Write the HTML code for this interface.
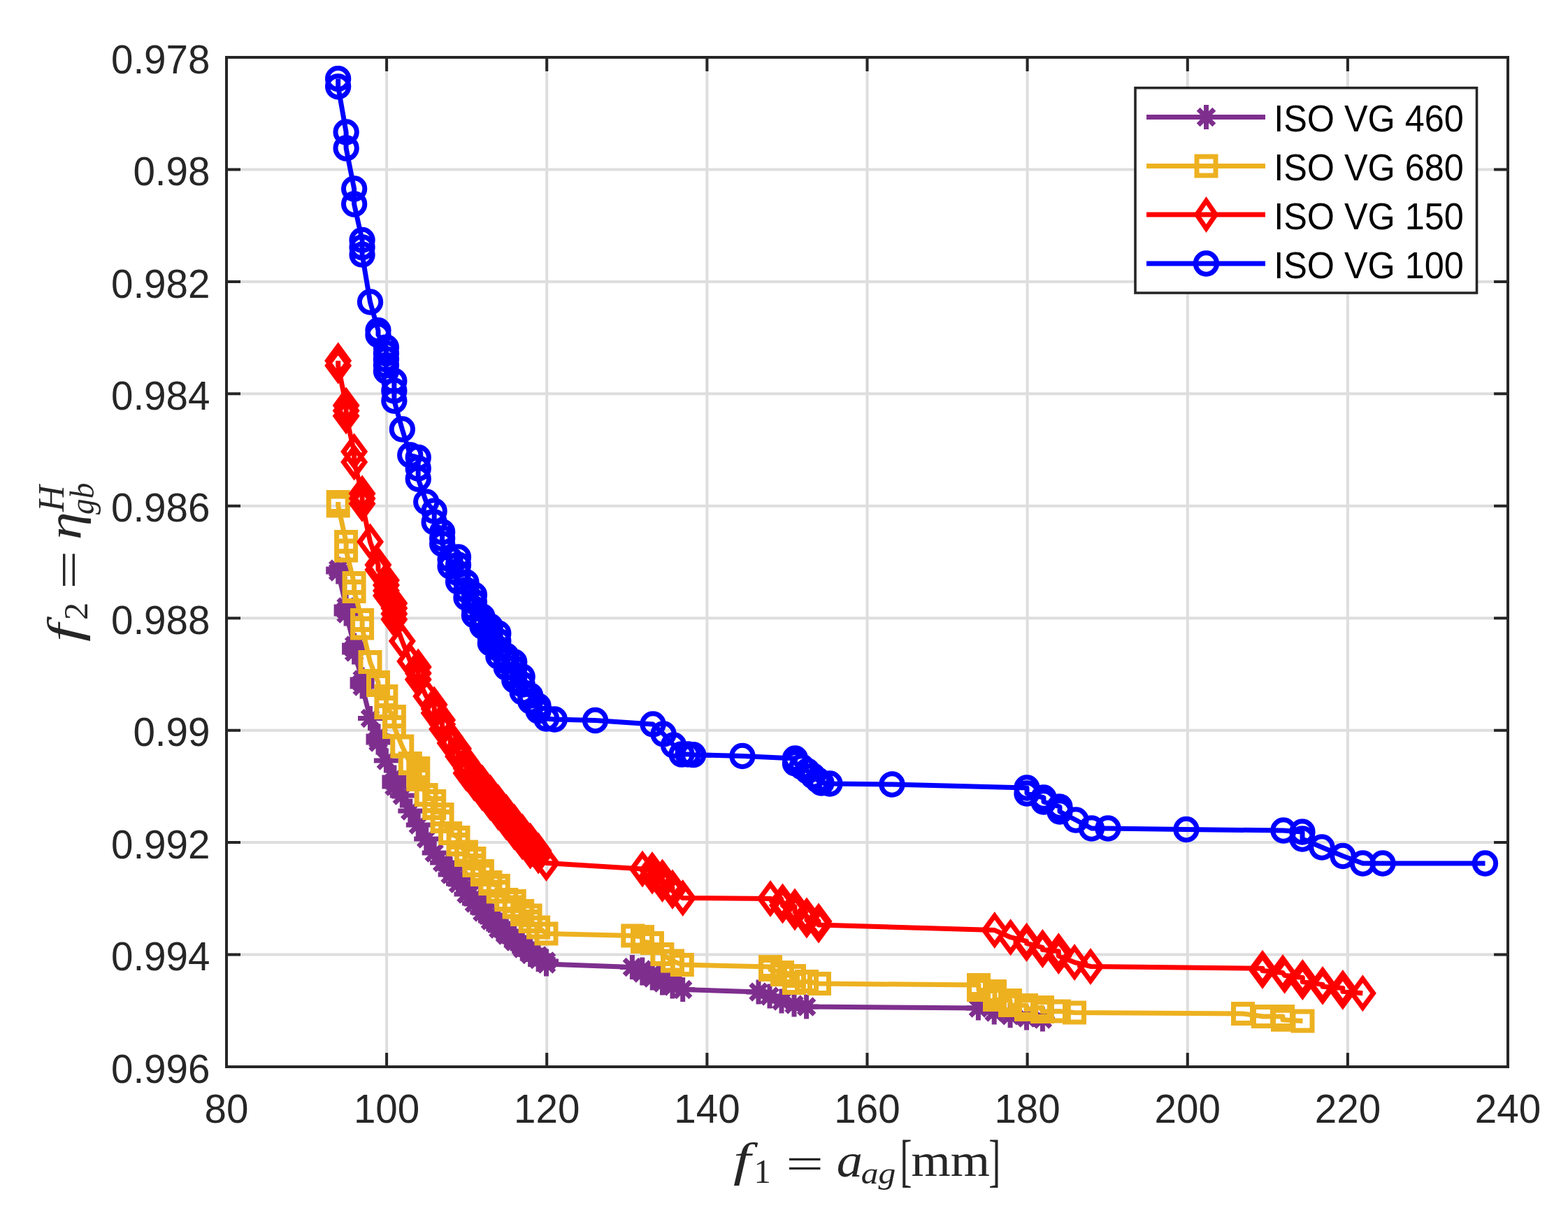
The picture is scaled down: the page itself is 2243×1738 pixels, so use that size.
<!DOCTYPE html>
<html><head><meta charset="utf-8"><title>Pareto fronts</title>
<style>html,body{margin:0;padding:0;background:#fff;}body{width:2243px;height:1738px;overflow:hidden;}svg{display:block;}.tk{font-family:"Liberation Sans",Arial,Helvetica,sans-serif;font-size:58.1px;fill:#262626;}.lg{font-family:"Liberation Sans",Arial,Helvetica,sans-serif;font-size:53.1px;fill:#000;}.tx{font-family:"Liberation Serif","Times New Roman",serif;fill:#262626;}</style></head><body>
<svg width="2243" height="1738" viewBox="0 0 2243 1738">
<rect width="2243" height="1738" fill="#fff"/>
<path d="M553.1 82V1526M782.2 82V1526M1011.4 82V1526M1240.5 82V1526M1469.6 82V1526M1698.8 82V1526M1927.9 82V1526M324 242.4H2157M324 402.9H2157M324 563.3H2157M324 723.8H2157M324 884.2H2157M324 1044.7H2157M324 1205.1H2157M324 1365.6H2157" stroke="#dedede" stroke-width="4" fill="none"/>
<path d="M483.7 814 L483.7 818 L495.1 868 L495.1 873 L495.1 878 L506.6 923 L506.6 928 L506.6 933 L518.1 972 L518.1 977 L518.1 982 L529.5 1027.5 L541 1053 L541 1058 L541 1062 L552.4 1088 L563.9 1112 L563.9 1118 L563.9 1125 L575.3 1138 L586.8 1160 L598.2 1180 L609.7 1200 L621.2 1220 L632.6 1234 L644.1 1243 L644.1 1251 L655.5 1256 L655.5 1264 L667 1269 L667 1279 L678.4 1284 L678.4 1292 L689.9 1296 L689.9 1305 L701.4 1309 L701.4 1317 L712.8 1321 L712.8 1329 L724.3 1332 L724.3 1338 L735.7 1341 L735.7 1347 L747.2 1350 L747.2 1357 L758.6 1359 L758.6 1365.5 L770.1 1367 L770.1 1372.5 L781.5 1375 L781.5 1379 L904.4 1383.5 L918.8 1387 L918.8 1392 L933.2 1393 L933.2 1399 L947.5 1400 L947.5 1406 L962 1406 L962 1411 L976.7 1415.5 L1085 1419 L1101 1425 L1118 1432 L1136 1437 L1153.6 1440 L1399.4 1442 L1422.2 1448 L1445.1 1452.7 L1468.5 1456 L1491.4 1458" stroke="#7E2F8E" stroke-width="7" fill="none" stroke-linejoin="round"/>
<path d="M466.2 814H501.2M483.7 796.5V831.5M472.4 802.7L495 825.3M472.4 825.3L495 802.7M466.2 818H501.2M483.7 800.5V835.5M472.4 806.7L495 829.3M472.4 829.3L495 806.7M477.6 868H512.6M495.1 850.5V885.5M483.8 856.7L506.4 879.3M483.8 879.3L506.4 856.7M477.6 873H512.6M495.1 855.5V890.5M483.8 861.7L506.4 884.3M483.8 884.3L506.4 861.7M477.6 878H512.6M495.1 860.5V895.5M483.8 866.7L506.4 889.3M483.8 889.3L506.4 866.7M489.1 923H524.1M506.6 905.5V940.5M495.3 911.7L517.9 934.3M495.3 934.3L517.9 911.7M489.1 928H524.1M506.6 910.5V945.5M495.3 916.7L517.9 939.3M495.3 939.3L517.9 916.7M489.1 933H524.1M506.6 915.5V950.5M495.3 921.7L517.9 944.3M495.3 944.3L517.9 921.7M500.6 972H535.6M518.1 954.5V989.5M506.8 960.7L529.4 983.3M506.8 983.3L529.4 960.7M500.6 977H535.6M518.1 959.5V994.5M506.8 965.7L529.4 988.3M506.8 988.3L529.4 965.7M500.6 982H535.6M518.1 964.5V999.5M506.8 970.7L529.4 993.3M506.8 993.3L529.4 970.7M512 1027.5H547M529.5 1010V1045M518.2 1016.2L540.8 1038.8M518.2 1038.8L540.8 1016.2M523.5 1053H558.5M541 1035.5V1070.5M529.7 1041.7L552.3 1064.3M529.7 1064.3L552.3 1041.7M523.5 1058H558.5M541 1040.5V1075.5M529.7 1046.7L552.3 1069.3M529.7 1069.3L552.3 1046.7M523.5 1062H558.5M541 1044.5V1079.5M529.7 1050.7L552.3 1073.3M529.7 1073.3L552.3 1050.7M534.9 1088H569.9M552.4 1070.5V1105.5M541.1 1076.7L563.7 1099.3M541.1 1099.3L563.7 1076.7M546.4 1112H581.4M563.9 1094.5V1129.5M552.6 1100.7L575.2 1123.3M552.6 1123.3L575.2 1100.7M546.4 1118H581.4M563.9 1100.5V1135.5M552.6 1106.7L575.2 1129.3M552.6 1129.3L575.2 1106.7M546.4 1125H581.4M563.9 1107.5V1142.5M552.6 1113.7L575.2 1136.3M552.6 1136.3L575.2 1113.7M557.8 1138H592.8M575.3 1120.5V1155.5M564 1126.7L586.6 1149.3M564 1149.3L586.6 1126.7M569.3 1160H604.3M586.8 1142.5V1177.5M575.5 1148.7L598.1 1171.3M575.5 1171.3L598.1 1148.7M580.8 1180H615.8M598.2 1162.5V1197.5M587 1168.7L609.5 1191.3M587 1191.3L609.5 1168.7M592.2 1200H627.2M609.7 1182.5V1217.5M598.4 1188.7L621 1211.3M598.4 1211.3L621 1188.7M603.7 1220H638.7M621.2 1202.5V1237.5M609.9 1208.7L632.5 1231.3M609.9 1231.3L632.5 1208.7M615.1 1234H650.1M632.6 1216.5V1251.5M621.3 1222.7L643.9 1245.3M621.3 1245.3L643.9 1222.7M626.6 1243H661.6M644.1 1225.5V1260.5M632.8 1231.7L655.4 1254.3M632.8 1254.3L655.4 1231.7M626.6 1251H661.6M644.1 1233.5V1268.5M632.8 1239.7L655.4 1262.3M632.8 1262.3L655.4 1239.7M638 1256H673M655.5 1238.5V1273.5M644.2 1244.7L666.8 1267.3M644.2 1267.3L666.8 1244.7M638 1264H673M655.5 1246.5V1281.5M644.2 1252.7L666.8 1275.3M644.2 1275.3L666.8 1252.7M649.5 1269H684.5M667 1251.5V1286.5M655.7 1257.7L678.3 1280.3M655.7 1280.3L678.3 1257.7M649.5 1279H684.5M667 1261.5V1296.5M655.7 1267.7L678.3 1290.3M655.7 1290.3L678.3 1267.7M660.9 1284H695.9M678.4 1266.5V1301.5M667.1 1272.7L689.7 1295.3M667.1 1295.3L689.7 1272.7M660.9 1292H695.9M678.4 1274.5V1309.5M667.1 1280.7L689.7 1303.3M667.1 1303.3L689.7 1280.7M672.4 1296H707.4M689.9 1278.5V1313.5M678.6 1284.7L701.2 1307.3M678.6 1307.3L701.2 1284.7M672.4 1305H707.4M689.9 1287.5V1322.5M678.6 1293.7L701.2 1316.3M678.6 1316.3L701.2 1293.7M683.9 1309H718.9M701.4 1291.5V1326.5M690.1 1297.7L712.7 1320.3M690.1 1320.3L712.7 1297.7M683.9 1317H718.9M701.4 1299.5V1334.5M690.1 1305.7L712.7 1328.3M690.1 1328.3L712.7 1305.7M695.3 1321H730.3M712.8 1303.5V1338.5M701.5 1309.7L724.1 1332.3M701.5 1332.3L724.1 1309.7M695.3 1329H730.3M712.8 1311.5V1346.5M701.5 1317.7L724.1 1340.3M701.5 1340.3L724.1 1317.7M706.8 1332H741.8M724.3 1314.5V1349.5M713 1320.7L735.6 1343.3M713 1343.3L735.6 1320.7M706.8 1338H741.8M724.3 1320.5V1355.5M713 1326.7L735.6 1349.3M713 1349.3L735.6 1326.7M718.2 1341H753.2M735.7 1323.5V1358.5M724.4 1329.7L747 1352.3M724.4 1352.3L747 1329.7M718.2 1347H753.2M735.7 1329.5V1364.5M724.4 1335.7L747 1358.3M724.4 1358.3L747 1335.7M729.7 1350H764.7M747.2 1332.5V1367.5M735.9 1338.7L758.5 1361.3M735.9 1361.3L758.5 1338.7M729.7 1357H764.7M747.2 1339.5V1374.5M735.9 1345.7L758.5 1368.3M735.9 1368.3L758.5 1345.7M741.1 1359H776.1M758.6 1341.5V1376.5M747.3 1347.7L769.9 1370.3M747.3 1370.3L769.9 1347.7M741.1 1365.5H776.1M758.6 1348V1383M747.3 1354.2L769.9 1376.8M747.3 1376.8L769.9 1354.2M752.6 1367H787.6M770.1 1349.5V1384.5M758.8 1355.7L781.4 1378.3M758.8 1378.3L781.4 1355.7M752.6 1372.5H787.6M770.1 1355V1390M758.8 1361.2L781.4 1383.8M758.8 1383.8L781.4 1361.2M764 1375H799M781.5 1357.5V1392.5M770.2 1363.7L792.8 1386.3M770.2 1386.3L792.8 1363.7M764 1379H799M781.5 1361.5V1396.5M770.2 1367.7L792.8 1390.3M770.2 1390.3L792.8 1367.7M886.9 1383.5H921.9M904.4 1366V1401M893.1 1372.2L915.7 1394.8M893.1 1394.8L915.7 1372.2M901.3 1387H936.3M918.8 1369.5V1404.5M907.5 1375.7L930.1 1398.3M907.5 1398.3L930.1 1375.7M901.3 1392H936.3M918.8 1374.5V1409.5M907.5 1380.7L930.1 1403.3M907.5 1403.3L930.1 1380.7M915.7 1393H950.7M933.2 1375.5V1410.5M921.9 1381.7L944.5 1404.3M921.9 1404.3L944.5 1381.7M915.7 1399H950.7M933.2 1381.5V1416.5M921.9 1387.7L944.5 1410.3M921.9 1410.3L944.5 1387.7M930 1400H965M947.5 1382.5V1417.5M936.2 1388.7L958.8 1411.3M936.2 1411.3L958.8 1388.7M930 1406H965M947.5 1388.5V1423.5M936.2 1394.7L958.8 1417.3M936.2 1417.3L958.8 1394.7M944.5 1406H979.5M962 1388.5V1423.5M950.7 1394.7L973.3 1417.3M950.7 1417.3L973.3 1394.7M944.5 1411H979.5M962 1393.5V1428.5M950.7 1399.7L973.3 1422.3M950.7 1422.3L973.3 1399.7M959.2 1415.5H994.2M976.7 1398V1433M965.4 1404.2L988 1426.8M965.4 1426.8L988 1404.2M1067.5 1419H1102.5M1085 1401.5V1436.5M1073.7 1407.7L1096.3 1430.3M1073.7 1430.3L1096.3 1407.7M1083.5 1425H1118.5M1101 1407.5V1442.5M1089.7 1413.7L1112.3 1436.3M1089.7 1436.3L1112.3 1413.7M1100.5 1432H1135.5M1118 1414.5V1449.5M1106.7 1420.7L1129.3 1443.3M1106.7 1443.3L1129.3 1420.7M1118.5 1437H1153.5M1136 1419.5V1454.5M1124.7 1425.7L1147.3 1448.3M1124.7 1448.3L1147.3 1425.7M1136.1 1440H1171.1M1153.6 1422.5V1457.5M1142.3 1428.7L1164.9 1451.3M1142.3 1451.3L1164.9 1428.7M1381.9 1442H1416.9M1399.4 1424.5V1459.5M1388.1 1430.7L1410.7 1453.3M1388.1 1453.3L1410.7 1430.7M1404.7 1448H1439.7M1422.2 1430.5V1465.5M1410.9 1436.7L1433.5 1459.3M1410.9 1459.3L1433.5 1436.7M1427.6 1452.7H1462.6M1445.1 1435.2V1470.2M1433.8 1441.4L1456.4 1464M1433.8 1464L1456.4 1441.4M1451 1456H1486M1468.5 1438.5V1473.5M1457.2 1444.7L1479.8 1467.3M1457.2 1467.3L1479.8 1444.7M1473.9 1458H1508.9M1491.4 1440.5V1475.5M1480.1 1446.7L1502.7 1469.3M1480.1 1469.3L1502.7 1446.7" stroke="#7E2F8E" stroke-width="7" fill="none" stroke-linecap="butt" stroke-linejoin="miter" stroke-miterlimit="10"/>
<path d="M483.7 718 L483.7 723.4 L495.1 775 L495.1 787.6 L506.6 834 L506.6 846 L518.1 887 L518.1 898.5 L529.5 947 L541 976 L541 980 L552.4 996 L552.4 1012 L563.9 1025 L563.9 1040 L575.3 1067.6 L586.8 1092 L598.2 1099 L598.2 1104 L598.2 1109 L598.2 1115 L609.7 1137 L621.2 1146 L621.2 1156 L632.6 1165 L632.6 1175 L644.1 1192 L655.5 1198 L655.5 1208 L667 1218.5 L667 1223 L678.4 1228 L678.4 1238 L689.9 1246 L689.9 1251 L701.4 1262 L701.4 1264 L712.8 1267 L712.8 1275.5 L724.3 1287 L735.7 1289 L735.7 1297.6 L747.2 1303 L747.2 1308 L758.6 1309.5 L758.6 1318 L770.1 1326.5 L781.5 1335.5 L905.3 1338.5 L919 1340 L919 1347 L933 1349 L947.4 1365 L962 1374.5 L975.8 1380 L1102 1383 L1102 1387 L1119 1391 L1119 1394 L1136 1396 L1136 1406 L1154 1404 L1172 1407 L1400 1409 L1400 1416 L1423 1418 L1423 1424 L1423 1430 L1445 1431 L1445 1438 L1468 1438 L1468 1444 L1491 1441 L1491 1447 L1514.8 1446.5 L1537 1448.4 L1778 1450 L1807 1454 L1835 1454 L1835 1458.7 L1863.5 1460.4" stroke="#EDB120" stroke-width="7" fill="none" stroke-linejoin="round"/>
<path d="M470.2 704.5h27v27h-27zM470.2 709.9h27v27h-27zM481.6 761.5h27v27h-27zM481.6 774.1h27v27h-27zM493.1 820.5h27v27h-27zM493.1 832.5h27v27h-27zM504.6 873.5h27v27h-27zM504.6 885h27v27h-27zM516 933.5h27v27h-27zM527.5 962.5h27v27h-27zM527.5 966.5h27v27h-27zM538.9 982.5h27v27h-27zM538.9 998.5h27v27h-27zM550.4 1011.5h27v27h-27zM550.4 1026.5h27v27h-27zM561.8 1054.1h27v27h-27zM573.3 1078.5h27v27h-27zM584.8 1085.5h27v27h-27zM584.8 1090.5h27v27h-27zM584.8 1095.5h27v27h-27zM584.8 1101.5h27v27h-27zM596.2 1123.5h27v27h-27zM607.7 1132.5h27v27h-27zM607.7 1142.5h27v27h-27zM619.1 1151.5h27v27h-27zM619.1 1161.5h27v27h-27zM630.6 1178.5h27v27h-27zM642 1184.5h27v27h-27zM642 1194.5h27v27h-27zM653.5 1205h27v27h-27zM653.5 1209.5h27v27h-27zM664.9 1214.5h27v27h-27zM664.9 1224.5h27v27h-27zM676.4 1232.5h27v27h-27zM676.4 1237.5h27v27h-27zM687.9 1248.5h27v27h-27zM687.9 1250.5h27v27h-27zM699.3 1253.5h27v27h-27zM699.3 1262h27v27h-27zM710.8 1273.5h27v27h-27zM722.2 1275.5h27v27h-27zM722.2 1284.1h27v27h-27zM733.7 1289.5h27v27h-27zM733.7 1294.5h27v27h-27zM745.1 1296h27v27h-27zM745.1 1304.5h27v27h-27zM756.6 1313h27v27h-27zM768 1322h27v27h-27zM891.8 1325h27v27h-27zM905.5 1326.5h27v27h-27zM905.5 1333.5h27v27h-27zM919.5 1335.5h27v27h-27zM933.9 1351.5h27v27h-27zM948.5 1361h27v27h-27zM962.3 1366.5h27v27h-27zM1088.5 1369.5h27v27h-27zM1088.5 1373.5h27v27h-27zM1105.5 1377.5h27v27h-27zM1105.5 1380.5h27v27h-27zM1122.5 1382.5h27v27h-27zM1122.5 1392.5h27v27h-27zM1140.5 1390.5h27v27h-27zM1158.5 1393.5h27v27h-27zM1386.5 1395.5h27v27h-27zM1386.5 1402.5h27v27h-27zM1409.5 1404.5h27v27h-27zM1409.5 1410.5h27v27h-27zM1409.5 1416.5h27v27h-27zM1431.5 1417.5h27v27h-27zM1431.5 1424.5h27v27h-27zM1454.5 1424.5h27v27h-27zM1454.5 1430.5h27v27h-27zM1477.5 1427.5h27v27h-27zM1477.5 1433.5h27v27h-27zM1501.3 1433h27v27h-27zM1523.5 1434.9h27v27h-27zM1764.5 1436.5h27v27h-27zM1793.5 1440.5h27v27h-27zM1821.5 1440.5h27v27h-27zM1821.5 1445.2h27v27h-27zM1850 1446.9h27v27h-27z" stroke="#EDB120" stroke-width="7" fill="none" stroke-linecap="butt" stroke-linejoin="miter" stroke-miterlimit="10"/>
<path d="M483.7 516 L483.7 523 L495.1 580 L495.1 587.5 L495.1 595 L506.6 646 L506.6 661 L518.1 706 L518.1 713 L518.1 720.6 L529.5 775 L541 808 L541 815 L552.4 830 L552.4 837 L552.4 845 L552.4 852 L563.9 863 L563.9 870 L563.9 878 L563.9 886 L575.3 917 L586.8 946 L598.2 954 L598.2 963 L598.2 972 L609.7 996 L621.2 1008 L621.2 1014 L621.2 1020 L632.6 1030 L632.6 1036 L632.6 1043 L644.1 1055 L644.1 1063 L655.5 1071 L655.5 1076 L655.5 1082 L667 1090 L667 1099 L667 1106 L678.4 1106 L678.4 1113 L678.4 1120 L689.9 1120 L689.9 1127 L689.9 1134 L701.4 1134 L701.4 1141 L701.4 1148 L712.8 1148 L712.8 1155 L712.8 1162 L724.3 1162 L724.3 1169 L724.3 1176 L735.7 1176 L735.7 1183 L735.7 1190 L747.2 1190 L747.2 1197 L747.2 1204 L758.6 1203 L758.6 1210 L758.6 1217 L770.1 1217 L770.1 1224 L781.5 1234.5 L919 1243 L933 1244.5 L933 1253 L947.5 1255 L947.5 1264.6 L962 1270 L962 1274.6 L976.7 1284.5 L1102 1285.5 L1119.5 1290 L1119.5 1295 L1137 1297 L1137 1305 L1154 1310 L1154 1316 L1171 1318 L1171 1323 L1422.8 1330.6 L1445.6 1340.7 L1468.5 1346.3 L1468.5 1349.4 L1491.4 1355.4 L1491.4 1358.5 L1514.3 1360.7 L1514.3 1367.5 L1537.1 1376.6 L1560 1382.4 L1806 1385.3 L1806 1388.6 L1835 1391.4 L1837.6 1395.2 L1863.3 1398.5 L1863.3 1404.6 L1892 1408.4 L1892 1411.2 L1920.8 1413.4 L1920.8 1418.3 L1949.3 1420.8" stroke="#FF0000" stroke-width="7" fill="none" stroke-linejoin="round"/>
<path d="M483.7 495.4L498.8 516L483.7 536.6L468.5 516zM483.7 502.4L498.8 523L483.7 543.6L468.5 523zM495.1 559.4L510.3 580L495.1 600.6L480 580zM495.1 566.9L510.3 587.5L495.1 608.1L480 587.5zM495.1 574.4L510.3 595L495.1 615.6L480 595zM506.6 625.4L521.8 646L506.6 666.6L491.5 646zM506.6 640.4L521.8 661L506.6 681.6L491.5 661zM518.1 685.4L533.2 706L518.1 726.6L502.9 706zM518.1 692.4L533.2 713L518.1 733.6L502.9 713zM518.1 700L533.2 720.6L518.1 741.2L502.9 720.6zM529.5 754.4L544.7 775L529.5 795.6L514.4 775zM541 787.4L556.1 808L541 828.6L525.8 808zM541 794.4L556.1 815L541 835.6L525.8 815zM552.4 809.4L567.6 830L552.4 850.6L537.3 830zM552.4 816.4L567.6 837L552.4 857.6L537.3 837zM552.4 824.4L567.6 845L552.4 865.6L537.3 845zM552.4 831.4L567.6 852L552.4 872.6L537.3 852zM563.9 842.4L579 863L563.9 883.6L548.7 863zM563.9 849.4L579 870L563.9 890.6L548.7 870zM563.9 857.4L579 878L563.9 898.6L548.7 878zM563.9 865.4L579 886L563.9 906.6L548.7 886zM575.3 896.4L590.5 917L575.3 937.6L560.2 917zM586.8 925.4L601.9 946L586.8 966.6L571.6 946zM598.2 933.4L613.4 954L598.2 974.6L583.1 954zM598.2 942.4L613.4 963L598.2 983.6L583.1 963zM598.2 951.4L613.4 972L598.2 992.6L583.1 972zM609.7 975.4L624.9 996L609.7 1016.6L594.6 996zM621.2 987.4L636.3 1008L621.2 1028.6L606 1008zM621.2 993.4L636.3 1014L621.2 1034.6L606 1014zM621.2 999.4L636.3 1020L621.2 1040.6L606 1020zM632.6 1009.4L647.8 1030L632.6 1050.6L617.5 1030zM632.6 1015.4L647.8 1036L632.6 1056.6L617.5 1036zM632.6 1022.4L647.8 1043L632.6 1063.6L617.5 1043zM644.1 1034.4L659.2 1055L644.1 1075.6L628.9 1055zM644.1 1042.4L659.2 1063L644.1 1083.6L628.9 1063zM655.5 1050.4L670.7 1071L655.5 1091.6L640.4 1071zM655.5 1055.4L670.7 1076L655.5 1096.6L640.4 1076zM655.5 1061.4L670.7 1082L655.5 1102.6L640.4 1082zM667 1069.4L682.1 1090L667 1110.6L651.8 1090zM667 1078.4L682.1 1099L667 1119.6L651.8 1099zM667 1085.4L682.1 1106L667 1126.6L651.8 1106zM678.4 1085.4L693.6 1106L678.4 1126.6L663.3 1106zM678.4 1092.4L693.6 1113L678.4 1133.6L663.3 1113zM678.4 1099.4L693.6 1120L678.4 1140.6L663.3 1120zM689.9 1099.4L705 1120L689.9 1140.6L674.8 1120zM689.9 1106.4L705 1127L689.9 1147.6L674.8 1127zM689.9 1113.4L705 1134L689.9 1154.6L674.8 1134zM701.4 1113.4L716.5 1134L701.4 1154.6L686.2 1134zM701.4 1120.4L716.5 1141L701.4 1161.6L686.2 1141zM701.4 1127.4L716.5 1148L701.4 1168.6L686.2 1148zM712.8 1127.4L728 1148L712.8 1168.6L697.7 1148zM712.8 1134.4L728 1155L712.8 1175.6L697.7 1155zM712.8 1141.4L728 1162L712.8 1182.6L697.7 1162zM724.3 1141.4L739.4 1162L724.3 1182.6L709.1 1162zM724.3 1148.4L739.4 1169L724.3 1189.6L709.1 1169zM724.3 1155.4L739.4 1176L724.3 1196.6L709.1 1176zM735.7 1155.4L750.9 1176L735.7 1196.6L720.6 1176zM735.7 1162.4L750.9 1183L735.7 1203.6L720.6 1183zM735.7 1169.4L750.9 1190L735.7 1210.6L720.6 1190zM747.2 1169.4L762.3 1190L747.2 1210.6L732 1190zM747.2 1176.4L762.3 1197L747.2 1217.6L732 1197zM747.2 1183.4L762.3 1204L747.2 1224.6L732 1204zM758.6 1182.4L773.8 1203L758.6 1223.6L743.5 1203zM758.6 1189.4L773.8 1210L758.6 1230.6L743.5 1210zM758.6 1196.4L773.8 1217L758.6 1237.6L743.5 1217zM770.1 1196.4L785.2 1217L770.1 1237.6L754.9 1217zM770.1 1203.4L785.2 1224L770.1 1244.6L754.9 1224zM781.5 1213.9L796.7 1234.5L781.5 1255.1L766.4 1234.5zM919 1222.4L934.1 1243L919 1263.6L903.9 1243zM933 1223.9L948.1 1244.5L933 1265.1L917.9 1244.5zM933 1232.4L948.1 1253L933 1273.6L917.9 1253zM947.5 1234.4L962.6 1255L947.5 1275.6L932.4 1255zM947.5 1244L962.6 1264.6L947.5 1285.2L932.4 1264.6zM962 1249.4L977.1 1270L962 1290.6L946.9 1270zM962 1254L977.1 1274.6L962 1295.2L946.9 1274.6zM976.7 1263.9L991.9 1284.5L976.7 1305.1L961.6 1284.5zM1102 1264.9L1117.2 1285.5L1102 1306.1L1086.8 1285.5zM1119.5 1269.4L1134.7 1290L1119.5 1310.6L1104.3 1290zM1119.5 1274.4L1134.7 1295L1119.5 1315.6L1104.3 1295zM1137 1276.4L1152.2 1297L1137 1317.6L1121.8 1297zM1137 1284.4L1152.2 1305L1137 1325.6L1121.8 1305zM1154 1289.4L1169.2 1310L1154 1330.6L1138.8 1310zM1154 1295.4L1169.2 1316L1154 1336.6L1138.8 1316zM1171 1297.4L1186.2 1318L1171 1338.6L1155.8 1318zM1171 1302.4L1186.2 1323L1171 1343.6L1155.8 1323zM1422.8 1310L1438 1330.6L1422.8 1351.2L1407.6 1330.6zM1445.6 1320.1L1460.8 1340.7L1445.6 1361.3L1430.4 1340.7zM1468.5 1325.7L1483.7 1346.3L1468.5 1366.9L1453.3 1346.3zM1468.5 1328.8L1483.7 1349.4L1468.5 1370L1453.3 1349.4zM1491.4 1334.8L1506.6 1355.4L1491.4 1376L1476.2 1355.4zM1491.4 1337.9L1506.6 1358.5L1491.4 1379.1L1476.2 1358.5zM1514.3 1340.1L1529.5 1360.7L1514.3 1381.3L1499.1 1360.7zM1514.3 1346.9L1529.5 1367.5L1514.3 1388.1L1499.1 1367.5zM1537.1 1356L1552.2 1376.6L1537.1 1397.2L1521.9 1376.6zM1560 1361.8L1575.2 1382.4L1560 1403L1544.8 1382.4zM1806 1364.7L1821.2 1385.3L1806 1405.9L1790.8 1385.3zM1806 1368L1821.2 1388.6L1806 1409.2L1790.8 1388.6zM1835 1370.8L1850.2 1391.4L1835 1412L1819.8 1391.4zM1837.6 1374.6L1852.8 1395.2L1837.6 1415.8L1822.4 1395.2zM1863.3 1377.9L1878.5 1398.5L1863.3 1419.1L1848.1 1398.5zM1863.3 1384L1878.5 1404.6L1863.3 1425.2L1848.1 1404.6zM1892 1387.8L1907.2 1408.4L1892 1429L1876.8 1408.4zM1892 1390.6L1907.2 1411.2L1892 1431.8L1876.8 1411.2zM1920.8 1392.8L1936 1413.4L1920.8 1434L1905.6 1413.4zM1920.8 1397.7L1936 1418.3L1920.8 1438.9L1905.6 1418.3zM1949.3 1400.2L1964.5 1420.8L1949.3 1441.4L1934.1 1420.8z" stroke="#FF0000" stroke-width="7" fill="none" stroke-linecap="butt" stroke-linejoin="miter" stroke-miterlimit="10"/>
<path d="M483.7 112.6 L483.7 123.8 L495.1 189 L495.1 212 L506.6 270 L506.6 292 L518.1 343.4 L518.1 353.8 L518.1 364.2 L529.5 432 L541 472.6 L541 479 L552.4 497 L552.4 505.5 L552.4 514 L552.4 522.5 L552.4 531 L563.9 545 L563.9 559 L563.9 573.3 L575.3 614 L586.8 651 L598.2 654.5 L598.2 670 L598.2 685 L609.7 718 L621.2 731 L621.2 747 L632.6 761 L632.6 770 L632.6 778 L644.1 800 L644.1 810 L655.5 797 L655.5 808 L655.5 820 L655.5 832 L667 833 L667 844 L667 855 L678.4 851 L678.4 861 L678.4 871 L678.4 880 L689.9 882 L689.9 889 L689.9 896 L701.4 896 L701.4 904 L701.4 912 L701.4 920 L712.8 906 L712.8 917 L712.8 928 L712.8 939 L724.3 938 L724.3 946 L724.3 955 L735.7 947 L735.7 956 L735.7 965 L735.7 973 L747.2 968 L747.2 979 L747.2 990 L758.6 995 L758.6 1003 L770.1 1010 L770.1 1017 L781.5 1028 L793.2 1029 L851.5 1030.5 L934 1036 L949 1050 L963.5 1066 L975 1079 L984 1079 L991.6 1079.7 L1062 1081.5 L1137.5 1085 L1137.5 1092 L1147 1097 L1155 1103 L1163 1110 L1170 1116 L1175 1120 L1187 1121 L1276 1122 L1469 1127 L1469 1135 L1493 1141 L1493 1147 L1516 1154 L1516 1161 L1539 1173 L1561.5 1185 L1585 1185 L1697 1186.5 L1836 1188 L1863 1190 L1863 1200 L1891 1212 L1921 1224.5 L1949.5 1235 L1978 1235 L2124.5 1235" stroke="#0000FF" stroke-width="7" fill="none" stroke-linejoin="round"/>
<path d="M468.5 112.6a15.15 15.15 0 1 0 30.3 0a15.15 15.15 0 1 0 -30.3 0M468.5 123.8a15.15 15.15 0 1 0 30.3 0a15.15 15.15 0 1 0 -30.3 0M480 189a15.15 15.15 0 1 0 30.3 0a15.15 15.15 0 1 0 -30.3 0M480 212a15.15 15.15 0 1 0 30.3 0a15.15 15.15 0 1 0 -30.3 0M491.5 270a15.15 15.15 0 1 0 30.3 0a15.15 15.15 0 1 0 -30.3 0M491.5 292a15.15 15.15 0 1 0 30.3 0a15.15 15.15 0 1 0 -30.3 0M502.9 343.4a15.15 15.15 0 1 0 30.3 0a15.15 15.15 0 1 0 -30.3 0M502.9 353.8a15.15 15.15 0 1 0 30.3 0a15.15 15.15 0 1 0 -30.3 0M502.9 364.2a15.15 15.15 0 1 0 30.3 0a15.15 15.15 0 1 0 -30.3 0M514.4 432a15.15 15.15 0 1 0 30.3 0a15.15 15.15 0 1 0 -30.3 0M525.8 472.6a15.15 15.15 0 1 0 30.3 0a15.15 15.15 0 1 0 -30.3 0M525.8 479a15.15 15.15 0 1 0 30.3 0a15.15 15.15 0 1 0 -30.3 0M537.3 497a15.15 15.15 0 1 0 30.3 0a15.15 15.15 0 1 0 -30.3 0M537.3 505.5a15.15 15.15 0 1 0 30.3 0a15.15 15.15 0 1 0 -30.3 0M537.3 514a15.15 15.15 0 1 0 30.3 0a15.15 15.15 0 1 0 -30.3 0M537.3 522.5a15.15 15.15 0 1 0 30.3 0a15.15 15.15 0 1 0 -30.3 0M537.3 531a15.15 15.15 0 1 0 30.3 0a15.15 15.15 0 1 0 -30.3 0M548.7 545a15.15 15.15 0 1 0 30.3 0a15.15 15.15 0 1 0 -30.3 0M548.7 559a15.15 15.15 0 1 0 30.3 0a15.15 15.15 0 1 0 -30.3 0M548.7 573.3a15.15 15.15 0 1 0 30.3 0a15.15 15.15 0 1 0 -30.3 0M560.2 614a15.15 15.15 0 1 0 30.3 0a15.15 15.15 0 1 0 -30.3 0M571.6 651a15.15 15.15 0 1 0 30.3 0a15.15 15.15 0 1 0 -30.3 0M583.1 654.5a15.15 15.15 0 1 0 30.3 0a15.15 15.15 0 1 0 -30.3 0M583.1 670a15.15 15.15 0 1 0 30.3 0a15.15 15.15 0 1 0 -30.3 0M583.1 685a15.15 15.15 0 1 0 30.3 0a15.15 15.15 0 1 0 -30.3 0M594.6 718a15.15 15.15 0 1 0 30.3 0a15.15 15.15 0 1 0 -30.3 0M606 731a15.15 15.15 0 1 0 30.3 0a15.15 15.15 0 1 0 -30.3 0M606 747a15.15 15.15 0 1 0 30.3 0a15.15 15.15 0 1 0 -30.3 0M617.5 761a15.15 15.15 0 1 0 30.3 0a15.15 15.15 0 1 0 -30.3 0M617.5 770a15.15 15.15 0 1 0 30.3 0a15.15 15.15 0 1 0 -30.3 0M617.5 778a15.15 15.15 0 1 0 30.3 0a15.15 15.15 0 1 0 -30.3 0M628.9 800a15.15 15.15 0 1 0 30.3 0a15.15 15.15 0 1 0 -30.3 0M628.9 810a15.15 15.15 0 1 0 30.3 0a15.15 15.15 0 1 0 -30.3 0M640.4 797a15.15 15.15 0 1 0 30.3 0a15.15 15.15 0 1 0 -30.3 0M640.4 808a15.15 15.15 0 1 0 30.3 0a15.15 15.15 0 1 0 -30.3 0M640.4 820a15.15 15.15 0 1 0 30.3 0a15.15 15.15 0 1 0 -30.3 0M640.4 832a15.15 15.15 0 1 0 30.3 0a15.15 15.15 0 1 0 -30.3 0M651.8 833a15.15 15.15 0 1 0 30.3 0a15.15 15.15 0 1 0 -30.3 0M651.8 844a15.15 15.15 0 1 0 30.3 0a15.15 15.15 0 1 0 -30.3 0M651.8 855a15.15 15.15 0 1 0 30.3 0a15.15 15.15 0 1 0 -30.3 0M663.3 851a15.15 15.15 0 1 0 30.3 0a15.15 15.15 0 1 0 -30.3 0M663.3 861a15.15 15.15 0 1 0 30.3 0a15.15 15.15 0 1 0 -30.3 0M663.3 871a15.15 15.15 0 1 0 30.3 0a15.15 15.15 0 1 0 -30.3 0M663.3 880a15.15 15.15 0 1 0 30.3 0a15.15 15.15 0 1 0 -30.3 0M674.8 882a15.15 15.15 0 1 0 30.3 0a15.15 15.15 0 1 0 -30.3 0M674.8 889a15.15 15.15 0 1 0 30.3 0a15.15 15.15 0 1 0 -30.3 0M674.8 896a15.15 15.15 0 1 0 30.3 0a15.15 15.15 0 1 0 -30.3 0M686.2 896a15.15 15.15 0 1 0 30.3 0a15.15 15.15 0 1 0 -30.3 0M686.2 904a15.15 15.15 0 1 0 30.3 0a15.15 15.15 0 1 0 -30.3 0M686.2 912a15.15 15.15 0 1 0 30.3 0a15.15 15.15 0 1 0 -30.3 0M686.2 920a15.15 15.15 0 1 0 30.3 0a15.15 15.15 0 1 0 -30.3 0M697.7 906a15.15 15.15 0 1 0 30.3 0a15.15 15.15 0 1 0 -30.3 0M697.7 917a15.15 15.15 0 1 0 30.3 0a15.15 15.15 0 1 0 -30.3 0M697.7 928a15.15 15.15 0 1 0 30.3 0a15.15 15.15 0 1 0 -30.3 0M697.7 939a15.15 15.15 0 1 0 30.3 0a15.15 15.15 0 1 0 -30.3 0M709.1 938a15.15 15.15 0 1 0 30.3 0a15.15 15.15 0 1 0 -30.3 0M709.1 946a15.15 15.15 0 1 0 30.3 0a15.15 15.15 0 1 0 -30.3 0M709.1 955a15.15 15.15 0 1 0 30.3 0a15.15 15.15 0 1 0 -30.3 0M720.6 947a15.15 15.15 0 1 0 30.3 0a15.15 15.15 0 1 0 -30.3 0M720.6 956a15.15 15.15 0 1 0 30.3 0a15.15 15.15 0 1 0 -30.3 0M720.6 965a15.15 15.15 0 1 0 30.3 0a15.15 15.15 0 1 0 -30.3 0M720.6 973a15.15 15.15 0 1 0 30.3 0a15.15 15.15 0 1 0 -30.3 0M732 968a15.15 15.15 0 1 0 30.3 0a15.15 15.15 0 1 0 -30.3 0M732 979a15.15 15.15 0 1 0 30.3 0a15.15 15.15 0 1 0 -30.3 0M732 990a15.15 15.15 0 1 0 30.3 0a15.15 15.15 0 1 0 -30.3 0M743.5 995a15.15 15.15 0 1 0 30.3 0a15.15 15.15 0 1 0 -30.3 0M743.5 1003a15.15 15.15 0 1 0 30.3 0a15.15 15.15 0 1 0 -30.3 0M754.9 1010a15.15 15.15 0 1 0 30.3 0a15.15 15.15 0 1 0 -30.3 0M754.9 1017a15.15 15.15 0 1 0 30.3 0a15.15 15.15 0 1 0 -30.3 0M766.4 1028a15.15 15.15 0 1 0 30.3 0a15.15 15.15 0 1 0 -30.3 0M778.1 1029a15.15 15.15 0 1 0 30.3 0a15.15 15.15 0 1 0 -30.3 0M836.4 1030.5a15.15 15.15 0 1 0 30.3 0a15.15 15.15 0 1 0 -30.3 0M918.9 1036a15.15 15.15 0 1 0 30.3 0a15.15 15.15 0 1 0 -30.3 0M933.9 1050a15.15 15.15 0 1 0 30.3 0a15.15 15.15 0 1 0 -30.3 0M948.4 1066a15.15 15.15 0 1 0 30.3 0a15.15 15.15 0 1 0 -30.3 0M959.9 1079a15.15 15.15 0 1 0 30.3 0a15.15 15.15 0 1 0 -30.3 0M968.9 1079a15.15 15.15 0 1 0 30.3 0a15.15 15.15 0 1 0 -30.3 0M976.5 1079.7a15.15 15.15 0 1 0 30.3 0a15.15 15.15 0 1 0 -30.3 0M1046.8 1081.5a15.15 15.15 0 1 0 30.3 0a15.15 15.15 0 1 0 -30.3 0M1122.3 1085a15.15 15.15 0 1 0 30.3 0a15.15 15.15 0 1 0 -30.3 0M1122.3 1092a15.15 15.15 0 1 0 30.3 0a15.15 15.15 0 1 0 -30.3 0M1131.8 1097a15.15 15.15 0 1 0 30.3 0a15.15 15.15 0 1 0 -30.3 0M1139.8 1103a15.15 15.15 0 1 0 30.3 0a15.15 15.15 0 1 0 -30.3 0M1147.8 1110a15.15 15.15 0 1 0 30.3 0a15.15 15.15 0 1 0 -30.3 0M1154.8 1116a15.15 15.15 0 1 0 30.3 0a15.15 15.15 0 1 0 -30.3 0M1159.8 1120a15.15 15.15 0 1 0 30.3 0a15.15 15.15 0 1 0 -30.3 0M1171.8 1121a15.15 15.15 0 1 0 30.3 0a15.15 15.15 0 1 0 -30.3 0M1260.8 1122a15.15 15.15 0 1 0 30.3 0a15.15 15.15 0 1 0 -30.3 0M1453.8 1127a15.15 15.15 0 1 0 30.3 0a15.15 15.15 0 1 0 -30.3 0M1453.8 1135a15.15 15.15 0 1 0 30.3 0a15.15 15.15 0 1 0 -30.3 0M1477.8 1141a15.15 15.15 0 1 0 30.3 0a15.15 15.15 0 1 0 -30.3 0M1477.8 1147a15.15 15.15 0 1 0 30.3 0a15.15 15.15 0 1 0 -30.3 0M1500.8 1154a15.15 15.15 0 1 0 30.3 0a15.15 15.15 0 1 0 -30.3 0M1500.8 1161a15.15 15.15 0 1 0 30.3 0a15.15 15.15 0 1 0 -30.3 0M1523.8 1173a15.15 15.15 0 1 0 30.3 0a15.15 15.15 0 1 0 -30.3 0M1546.3 1185a15.15 15.15 0 1 0 30.3 0a15.15 15.15 0 1 0 -30.3 0M1569.8 1185a15.15 15.15 0 1 0 30.3 0a15.15 15.15 0 1 0 -30.3 0M1681.8 1186.5a15.15 15.15 0 1 0 30.3 0a15.15 15.15 0 1 0 -30.3 0M1820.8 1188a15.15 15.15 0 1 0 30.3 0a15.15 15.15 0 1 0 -30.3 0M1847.8 1190a15.15 15.15 0 1 0 30.3 0a15.15 15.15 0 1 0 -30.3 0M1847.8 1200a15.15 15.15 0 1 0 30.3 0a15.15 15.15 0 1 0 -30.3 0M1875.8 1212a15.15 15.15 0 1 0 30.3 0a15.15 15.15 0 1 0 -30.3 0M1905.8 1224.5a15.15 15.15 0 1 0 30.3 0a15.15 15.15 0 1 0 -30.3 0M1934.3 1235a15.15 15.15 0 1 0 30.3 0a15.15 15.15 0 1 0 -30.3 0M1962.8 1235a15.15 15.15 0 1 0 30.3 0a15.15 15.15 0 1 0 -30.3 0M2109.3 1235a15.15 15.15 0 1 0 30.3 0a15.15 15.15 0 1 0 -30.3 0" stroke="#0000FF" stroke-width="7" fill="none" stroke-linecap="butt" stroke-linejoin="miter" stroke-miterlimit="10"/>
<path d="M553.1 1526V1506M553.1 82V102M782.2 1526V1506M782.2 82V102M1011.4 1526V1506M1011.4 82V102M1240.5 1526V1506M1240.5 82V102M1469.6 1526V1506M1469.6 82V102M1698.8 1526V1506M1698.8 82V102M1927.9 1526V1506M1927.9 82V102M324 242.4H344M2157 242.4H2137M324 402.9H344M2157 402.9H2137M324 563.3H344M2157 563.3H2137M324 723.8H344M2157 723.8H2137M324 884.2H344M2157 884.2H2137M324 1044.7H344M2157 1044.7H2137M324 1205.1H344M2157 1205.1H2137M324 1365.6H344M2157 1365.6H2137" stroke="#262626" stroke-width="4" fill="none"/>
<rect x="324" y="82" width="1833" height="1444" stroke="#262626" stroke-width="4" fill="none"/>
<text class="tk" text-anchor="end" transform="translate(300.5 104.6) scale(0.974 1)">0.978</text>
<text class="tk" text-anchor="end" transform="translate(300.5 265) scale(0.974 1)">0.98</text>
<text class="tk" text-anchor="end" transform="translate(300.5 425.5) scale(0.974 1)">0.982</text>
<text class="tk" text-anchor="end" transform="translate(300.5 585.9) scale(0.974 1)">0.984</text>
<text class="tk" text-anchor="end" transform="translate(300.5 746.4) scale(0.974 1)">0.986</text>
<text class="tk" text-anchor="end" transform="translate(300.5 906.8) scale(0.974 1)">0.988</text>
<text class="tk" text-anchor="end" transform="translate(300.5 1067.3) scale(0.974 1)">0.99</text>
<text class="tk" text-anchor="end" transform="translate(300.5 1227.7) scale(0.974 1)">0.992</text>
<text class="tk" text-anchor="end" transform="translate(300.5 1388.2) scale(0.974 1)">0.994</text>
<text class="tk" text-anchor="end" transform="translate(300.5 1548.6) scale(0.974 1)">0.996</text>
<text class="tk" text-anchor="middle" transform="translate(324 1606.4) scale(0.974 1)">80</text>
<text class="tk" text-anchor="middle" transform="translate(553.1 1606.4) scale(0.974 1)">100</text>
<text class="tk" text-anchor="middle" transform="translate(782.2 1606.4) scale(0.974 1)">120</text>
<text class="tk" text-anchor="middle" transform="translate(1011.4 1606.4) scale(0.974 1)">140</text>
<text class="tk" text-anchor="middle" transform="translate(1240.5 1606.4) scale(0.974 1)">160</text>
<text class="tk" text-anchor="middle" transform="translate(1469.6 1606.4) scale(0.974 1)">180</text>
<text class="tk" text-anchor="middle" transform="translate(1698.8 1606.4) scale(0.974 1)">200</text>
<text class="tk" text-anchor="middle" transform="translate(1927.9 1606.4) scale(0.974 1)">220</text>
<text class="tk" text-anchor="middle" transform="translate(2157 1606.4) scale(0.974 1)">240</text>
<text class="tx" font-style="italic" font-size="67.7" transform="translate(1049.0 1681.8) scale(1.325 1)">f</text>
<text class="tx" font-style="normal" font-size="48.6" transform="translate(1078.6 1691.9) scale(0.999 1)">1</text>
<text class="tx" font-style="normal" font-size="65.2" transform="translate(1124.2 1686.8) scale(1.465 1)">=</text>
<text class="tx" font-style="italic" font-size="67.1" transform="translate(1196.7 1682.5) scale(1.109 1)">a</text>
<text class="tx" font-style="italic" font-size="45.1" transform="translate(1231.7 1692.5) scale(1.100 1)">ag</text>
<text class="tx" font-style="normal" font-size="82.4" transform="translate(1287.5 1688.1) scale(0.620 1)">[</text>
<text class="tx" font-style="normal" font-size="66.0" transform="translate(1303.5 1682.1) scale(1.096 1)">mm</text>
<text class="tx" font-style="normal" font-size="82.4" transform="translate(1414.2 1688.1) scale(0.620 1)">]</text>
<text class="tx" font-style="italic" font-size="67.5" transform="translate(114.6 918.0) rotate(-90) scale(1.368 1)">f</text>
<text class="tx" font-style="normal" font-size="49.5" transform="translate(125.0 887.0) rotate(-90) scale(1.019 1)">2</text>
<text class="tx" font-style="normal" font-size="68.4" transform="translate(120.5 842.7) rotate(-90) scale(1.431 1)">=</text>
<text class="tx" font-style="italic" font-size="67.1" transform="translate(115.7 771.9) rotate(-90) scale(1.186 1)">η</text>
<text class="tx" font-style="italic" font-size="48.3" transform="translate(133.5 735.9) rotate(-90) scale(0.934 1)">gb</text>
<text class="tx" font-style="italic" font-size="52.0" transform="translate(90.8 732.1) rotate(-90) scale(1.006 1)">H</text>
<rect x="1624" y="125.7" width="488.5" height="293.3" fill="#fff" stroke="#262626" stroke-width="3.6"/>
<path d="M1640 167.5H1810" stroke="#7E2F8E" stroke-width="7"/>
<path d="M1708 167.5H1743M1725.5 150V185M1714.2 156.2L1736.8 178.8M1714.2 178.8L1736.8 156.2" stroke="#7E2F8E" stroke-width="7" fill="none" stroke-linecap="butt" stroke-linejoin="miter"/>
<text class="lg" transform="translate(1822.2 188) scale(0.949 1)">ISO VG 460</text>
<path d="M1640 237.5H1810" stroke="#EDB120" stroke-width="7"/>
<path d="M1712 224h27v27h-27z" stroke="#EDB120" stroke-width="7" fill="none" stroke-linecap="butt" stroke-linejoin="miter"/>
<text class="lg" transform="translate(1822.2 258) scale(0.949 1)">ISO VG 680</text>
<path d="M1640 307H1810" stroke="#FF0000" stroke-width="7"/>
<path d="M1725.5 287.1L1739.1 307L1725.5 326.9L1711.9 307z" stroke="#FF0000" stroke-width="7" fill="none" stroke-linecap="butt" stroke-linejoin="miter"/>
<text class="lg" transform="translate(1822.2 327.5) scale(0.949 1)">ISO VG 150</text>
<path d="M1640 377H1810" stroke="#0000FF" stroke-width="7"/>
<path d="M1710.3 377a15.15 15.15 0 1 0 30.3 0a15.15 15.15 0 1 0 -30.3 0" stroke="#0000FF" stroke-width="7" fill="none" stroke-linecap="butt" stroke-linejoin="miter"/>
<text class="lg" transform="translate(1822.2 397.5) scale(0.949 1)">ISO VG 100</text>
</svg></body></html>
